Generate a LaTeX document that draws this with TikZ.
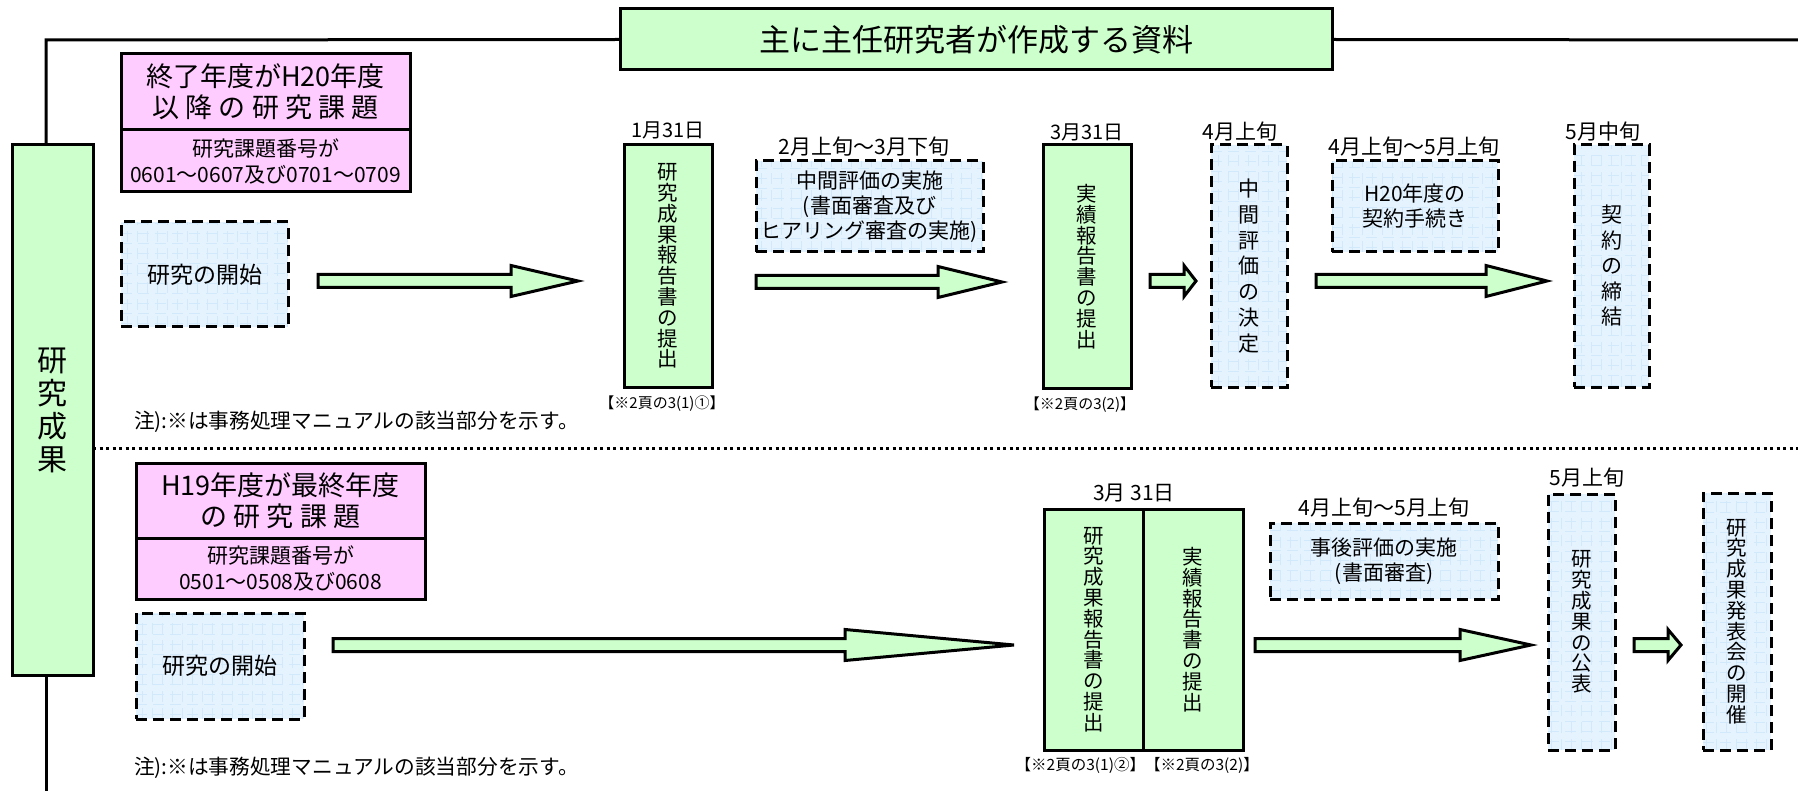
\documentclass[tikz,border=0pt]{standalone}
\usepackage{fontspec}
\setmainfont{Noto Sans CJK JP}
\usetikzlibrary{calc}
\definecolor{grn}{HTML}{CCFFCC}
\definecolor{pnk}{HTML}{FFCCFF}
\definecolor{lblue}{HTML}{E5F3FF}
\definecolor{gridc}{HTML}{D2E9FB}
\newcommand{\fs}[2]{\fontsize{#1}{#2}\selectfont}
\newcommand{\blockarrow}[3]{%
  \draw[barrow] let \p1=(#1), \p2=(#2) in
    (\x1,\y1+6.5pt) -- (\x2-#3pt,\y1+6.5pt) -- (\x2-#3pt,\y1+15.5pt) -- (\x2,\y1)
    -- (\x2-#3pt,\y1-15.5pt) -- (\x2-#3pt,\y1-6.5pt) -- (\x1,\y1-6.5pt) -- cycle;}
\tikzset{
  every node/.style={inner sep=0pt, outer sep=0pt},
  thickline/.style={line width=3pt},
  gbox/.style={draw, line width=3pt, fill=grn, align=center},
  pbox/.style={draw, line width=3pt, fill=pnk, align=center},
  dbox/.style={draw, line width=3pt, dash pattern=on 11pt off 6pt, fill=lblue, align=center,
     path picture={\draw[gridc, line width=0.6pt] (path picture bounding box.south west) grid[step=10pt] (path picture bounding box.north east);}},
  lbl/.style={align=center},
  barrow/.style={draw, line width=3pt, fill=grn},
}
\begin{document}
\begin{tikzpicture}[x=1pt,y=-1pt]
\useasboundingbox (0,0) rectangle (1798,791);
% header and side
\node[gbox, minimum width=712, minimum height=61, font=\fs{31}{31}] (title) at (976,39.5) {主に主任研究者が作成する資料};
\node[gbox, minimum width=81, minimum height=530, font=\fs{30}{33}] (side) at (52.5,410) {研\\究\\成\\果};
\coordinate (corner) at (46,40);
\coordinate (rend) at (1798,40);
\coordinate (bend) at (46,791);
\coordinate (dend) at (1798,448);
\draw[thickline] (title.west) -- (corner) -- (corner |- side.north);
\draw[thickline] (title.east) -- (rend);
\draw[thickline] (corner |- side.south) -- (bend);
\draw[line width=3pt, dash pattern=on 3pt off 3.5pt] (side.east |- dend) -- (dend);

% ---------- upper section ----------
\node[pbox, minimum width=289, minimum height=76, font=\fs{27}{31}] (p1t) at (265.5,92) {終了年度がH20年度\\以 降 の 研 究 課 題};
\node[pbox, minimum width=289, minimum height=62, font=\fs{21}{26}] (p1b) at (265.5,161) {研究課題番号が\\0601～0607及び0701～0709};
\node[dbox, minimum width=167, minimum height=105, font=\fs{23}{23}] (s1) at (204.5,274.5) {研究の開始};

\node[gbox, minimum width=88, minimum height=242, font=\fs{20.5}{20.8}] (g1) at (668,266) {研\\究\\成\\果\\報\\告\\書\\の\\提\\出};
\node[lbl, font=\fs{20}{20}] (dt1) at (668,130) {1月31日};
\node[lbl, font=\fs{15}{15}] (r1) at (662,404) {【※2頁の3(1)①】};

\node[lbl, font=\fs{21}{21}] (dt2) at (864,147) {2月上旬～3月下旬};
\node[dbox, minimum width=227, minimum height=91, font=\fs{21}{25}] (d2) at (869.5,206.5) {中間評価の実施\\(書面審査及び\\ヒアリング審査の実施)};

\node[gbox, minimum width=88, minimum height=243, font=\fs{20.5}{20.8}] (g2) at (1087,266.5) {実\\績\\報\\告\\書\\の\\提\\出};
\node[lbl, font=\fs{20}{20}] (dt3) at (1087,132) {3月31日};
\node[lbl, font=\fs{15}{15}] (r2) at (1080,405) {【※2頁の3(2)】};

\node[dbox, minimum width=76, minimum height=242, font=\fs{21}{25.8}] (d3) at (1249,266) {中\\間\\評\\価\\の\\決\\定};
\node[lbl, font=\fs{21}{21}] (dt4) at (1240,132) {4月上旬};

\node[lbl, font=\fs{21}{21}] (dt5) at (1414,147) {4月上旬～5月上旬};
\node[dbox, minimum width=166, minimum height=91, font=\fs{21}{25}] (d4) at (1415,206.5) {H20年度の\\契約手続き};

\node[dbox, minimum width=75, minimum height=242, font=\fs{21}{25.5}] (d5) at (1611.5,266) {契\\約\\の\\締\\結};
\node[lbl, font=\fs{21}{21}] (dt6) at (1603,132) {5月中旬};

\node[anchor=west, font=\fs{20.7}{20.7}] (n1) at (134,422) {注):※は事務処理マニュアルの該当部分を示す。};

\coordinate (a1s) at (318,281); \coordinate (a1e) at (578,281);
\coordinate (a2s) at (756,282); \coordinate (a2e) at (1002,282);
\coordinate (a3s) at (1150,281); \coordinate (a3e) at (1196,281);
\coordinate (a4s) at (1316,281); \coordinate (a4e) at (1547,281);
\blockarrow{a1s}{a1e}{67}
\blockarrow{a2s}{a2e}{64}
\blockarrow{a3s}{a3e}{12}
\blockarrow{a4s}{a4e}{61}

% ---------- lower section ----------
\node[pbox, minimum width=289, minimum height=75, font=\fs{27}{31}] (p2t) at (280.5,500.5) {H19年度が最終年度\\の 研 究 課 題};
\node[pbox, minimum width=289, minimum height=61, font=\fs{21}{26}] (p2b) at (280.5,568.5) {研究課題番号が\\0501～0508及び0608};
\node[dbox, minimum width=168, minimum height=106, font=\fs{23}{23}] (s2) at (220,666) {研究の開始};

\node[gbox, minimum width=99, minimum height=241, font=\fs{20.5}{20.8}] (q1) at (1093.5,629.5) {研\\究\\成\\果\\報\\告\\書\\の\\提\\出};
\node[gbox, minimum width=100, minimum height=241, font=\fs{20.5}{20.8}] (q2) at (1193,629.5) {実\\績\\報\\告\\書\\の\\提\\出};
\node[lbl, font=\fs{21}{21}] (dt7) at (1134,493) {3月 31日};
\node[lbl, font=\fs{15.5}{15.5}, anchor=east] (r3) at (1145,765) {【※2頁の3(1)②】};
\node[lbl, font=\fs{15.5}{15.5}, anchor=west] (r4) at (1145,765) {【※2頁の3(2)】};

\node[lbl, font=\fs{21}{21}] (dt8) at (1384,508) {4月上旬～5月上旬};
\node[dbox, minimum width=228, minimum height=76, font=\fs{21}{25}] (d6) at (1384,561) {事後評価の実施\\(書面審査)};

\node[dbox, minimum width=67, minimum height=256, font=\fs{20.5}{20.8}] (d7) at (1581.5,622) {研\\究\\成\\果\\の\\公\\表};
\node[lbl, font=\fs{21}{21}] (dt9) at (1587,478) {5月上旬};
\node[dbox, minimum width=68, minimum height=257, font=\fs{20.5}{20.8}] (d8) at (1737,621.5) {研\\究\\成\\果\\発\\表\\会\\の\\開\\催};

\node[anchor=west, font=\fs{20.7}{20.7}] (n2) at (134,768) {注):※は事務処理マニュアルの該当部分を示す。};

\coordinate (b1s) at (333,645); \coordinate (b1e) at (1014,645);
\coordinate (b2s) at (1255,645); \coordinate (b2e) at (1531,645);
\coordinate (b3s) at (1634,645); \coordinate (b3e) at (1681,645);
\blockarrow{b1s}{b1e}{169}
\blockarrow{b2s}{b2e}{71}
\blockarrow{b3s}{b3e}{13}
\end{tikzpicture}
\end{document}
